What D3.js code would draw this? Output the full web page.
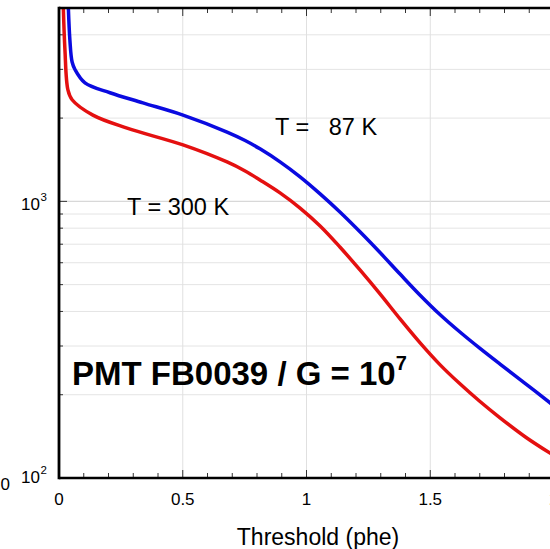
<!DOCTYPE html>
<html>
<head>
<meta charset="utf-8">
<script src="https://cdn.jsdelivr.net/npm/d3@7"></script>
<style>
  body { margin: 0; background: #fff; }
  text { font-family: "Liberation Sans", Arial, sans-serif; }
</style>
</head>
<body>
<div id="chart"></div>
<script>
// Threshold in phe, rate values
let thrCold = [0.036, 0.044, 0.053, 0.065, 0.105, 0.206, 0.339, 0.501, 0.679, 0.752, 0.812, 0.893, 0.974, 1.055, 1.135, 1.216, 1.297, 1.378, 1.459, 1.539, 1.620, 1.701, 1.782, 1.883, 1.984, 2.024];
let rateCold = [5570, 3830, 3190, 2990, 2680, 2470, 2270, 2050, 1780, 1659, 1548, 1389, 1226, 1064, 915, 776, 653, 546, 458, 390, 337, 294, 258, 220, 187, 175];

let thrWarm = [0.016, 0.024, 0.036, 0.053, 0.137, 0.275, 0.501, 0.679, 0.752, 0.812, 0.893, 0.974, 1.055, 1.135, 1.216, 1.297, 1.378, 1.459, 1.539, 1.620, 1.701, 1.782, 1.883, 1.984, 2.024];
let rateWarm = [5570, 3530, 2530, 2330, 2050, 1840, 1600, 1388, 1288, 1195, 1073, 946, 815, 684, 565, 463, 376, 308, 257, 219, 189, 165, 141, 123, 117];

let xTicks = [0, 0.5, 1, 1.5, 2];
let xTickLabels = ["0", "0.5", "1", "1.5", "2"];
let yMajor = [100, 1000];
let yMajorExp = ["2", "3"];
let yMinor = [200, 300, 400, 500, 600, 700, 800, 900, 2000, 3000, 4000];

let width = 550;
let height = 549;
let pLeft = 59, pRight = 554, pTop = 8, pBottom = 478;

let xScale = d3.scaleLinear().domain([0, 2]).range([pLeft, pRight]);
let yScale = d3.scaleLog().domain([100, 5000]).range([pBottom, pTop]);

let svg = d3.select("#chart").append("svg")
  .attr("width", width).attr("height", height);

svg.append("clipPath").attr("id", "plotclip")
  .append("rect")
  .attr("x", pLeft).attr("y", pTop)
  .attr("width", pRight - pLeft).attr("height", pBottom - pTop);

// grid
let grid = svg.append("g");
grid.selectAll(".hmin")
  .data(yMinor)
  .enter().append("line")
  .attr("x1", pLeft).attr("x2", pRight)
  .attr("y1", d => yScale(d)).attr("y2", d => yScale(d))
  .attr("stroke", "#e4e4e4").attr("stroke-width", 1);
grid.append("line")
  .attr("x1", pLeft).attr("x2", pRight)
  .attr("y1", yScale(1000)).attr("y2", yScale(1000))
  .attr("stroke", "#d8d8d8").attr("stroke-width", 1.2);
grid.selectAll(".vgrid")
  .data([0.5, 1, 1.5])
  .enter().append("line")
  .attr("x1", d => xScale(d)).attr("x2", d => xScale(d))
  .attr("y1", pTop).attr("y2", pBottom)
  .attr("stroke", "#e0e0e0").attr("stroke-width", 1);

// minor ticks
let xMinor = d3.range(1, 20).map(i => i / 10);
let isHalf = d => Math.abs(d * 2 - Math.round(d * 2)) < 1e-6;
let ticks = svg.append("g").attr("stroke", "#333").attr("stroke-width", 1);
ticks.selectAll(".xb")
  .data(xMinor)
  .enter().append("line")
  .attr("x1", d => xScale(d)).attr("x2", d => xScale(d))
  .attr("y1", pBottom).attr("y2", d => pBottom - (isHalf(d) ? 8 : 5));
ticks.selectAll(".xt")
  .data(xMinor)
  .enter().append("line")
  .attr("x1", d => xScale(d)).attr("x2", d => xScale(d))
  .attr("y1", pTop).attr("y2", d => pTop + (isHalf(d) ? 8 : 5));
ticks.selectAll(".yl")
  .data(yMinor.concat([1000]))
  .enter().append("line")
  .attr("x1", pLeft).attr("x2", d => pLeft + (d === 1000 ? 8 : 4))
  .attr("y1", d => yScale(d)).attr("y2", d => yScale(d));

// curves
let line = d3.line()
  .x(d => xScale(d[0]))
  .y(d => yScale(d[1]))
  .curve(d3.curveCatmullRom.alpha(0.5));

let curves = svg.append("g").attr("clip-path", "url(#plotclip)");
curves.append("path")
  .datum(thrWarm.map((t, i) => [t, rateWarm[i]]))
  .attr("d", line)
  .attr("fill", "none")
  .attr("stroke", "#e41010")
  .attr("stroke-width", 3.5);
curves.append("path")
  .datum(thrCold.map((t, i) => [t, rateCold[i]]))
  .attr("d", line)
  .attr("fill", "none")
  .attr("stroke", "#0a0ae0")
  .attr("stroke-width", 3.5);

// frame
svg.append("line")
  .attr("x1", pLeft).attr("x2", pLeft)
  .attr("y1", pTop - 1.3).attr("y2", pBottom + 1.3)
  .attr("stroke", "#000").attr("stroke-width", 2.8);
svg.append("line")
  .attr("x1", pLeft).attr("x2", width)
  .attr("y1", pBottom).attr("y2", pBottom)
  .attr("stroke", "#000").attr("stroke-width", 2.6);
svg.append("line")
  .attr("x1", pLeft).attr("x2", width)
  .attr("y1", pTop).attr("y2", pTop)
  .attr("stroke", "#000").attr("stroke-width", 2.6);

// x tick labels
svg.selectAll(".xlab")
  .data(xTicks)
  .enter().append("text")
  .attr("x", d => xScale(d))
  .attr("y", 505)
  .attr("text-anchor", "middle")
  .attr("font-size", 17)
  .text((d, i) => xTickLabels[i]);

// y tick labels, 10 with a raised exponent
yMajor.forEach((v, i) => {
  svg.append("text")
    .attr("x", 40)
    .attr("y", yScale(v) + (v === 100 ? 5 : 8.5))
    .attr("text-anchor", "end")
    .attr("font-size", 17)
    .text("10");
  svg.append("text")
    .attr("x", 40.5)
    .attr("y", yScale(v) + (v === 100 ? -4.5 : -0.5))
    .attr("font-size", 11.5)
    .text(yMajorExp[i]);
});

// leftover label from the neighbouring panel
svg.append("text")
  .attr("x", 10).attr("y", 490)
  .attr("text-anchor", "end")
  .attr("font-size", 17)
  .text("0");

// axis title
svg.append("text")
  .attr("x", 318).attr("y", 545)
  .attr("text-anchor", "middle")
  .attr("font-size", 23)
  .text("Threshold (phe)");

// annotations
svg.append("text")
  .attr("x", 275).attr("y", 135)
  .attr("font-size", 23.5)
  .attr("xml:space", "preserve")
  .style("white-space", "pre")
  .text("T =   87 K");
svg.append("text")
  .attr("x", 127).attr("y", 215)
  .attr("font-size", 23.5)
  .text("T = 300 K");

let pmt = svg.append("text")
  .attr("x", 72).attr("y", 385)
  .attr("font-size", 33)
  .attr("font-weight", "bold");
pmt.append("tspan").text("PMT FB0039 / G = 10");
pmt.append("tspan")
  .attr("dy", -15)
  .attr("font-size", 20)
  .text("7");
</script>
</body>
</html>
